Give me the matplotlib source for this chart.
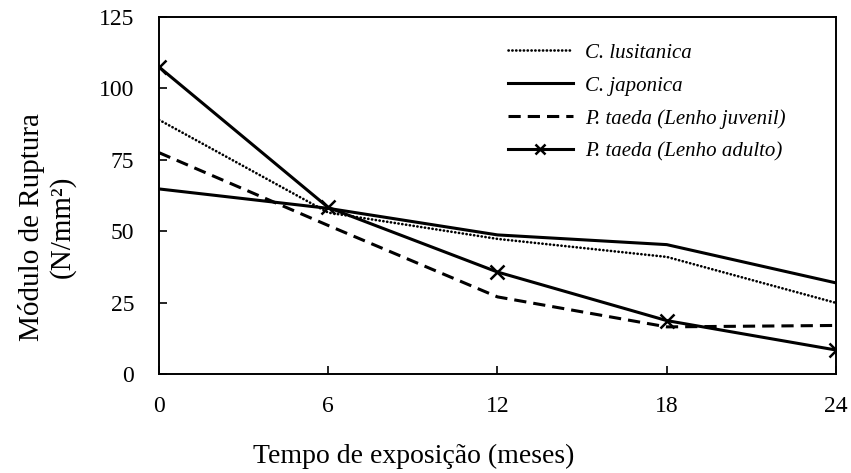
import matplotlib
matplotlib.use("Agg")
import matplotlib.pyplot as plt

plt.rcParams['font.family'] = ['Liberation Serif', 'DejaVu Serif']

months = [0, 6, 12, 18, 24]
c_lusitanica = [89.0, 56.5, 47.3, 41.0, 24.9]
c_japonica = [64.8, 58.0, 48.7, 45.3, 31.9]
p_taeda_juvenil = [77.5, 52.0, 27.0, 16.5, 17.0]
p_taeda_adulto = [107.5, 58.3, 35.7, 18.7, 8.4]
labels = ['C. lusitanica', 'C. japonica', 'P. taeda (Lenho juvenil)', 'P. taeda (Lenho adulto)']
xticks = [0, 6, 12, 18, 24]
yticks = [0, 25, 50, 75, 100, 125]

W, H = 851, 473
fig = plt.figure(figsize=(W / 100, H / 100), dpi=100)
ax = fig.add_axes([159 / W, 1 - 374 / H, (836 - 159) / W, (374 - 17) / H])

ax.plot(months, c_lusitanica, color='black', lw=1.9, dashes=(0.1, 1.35),
        dash_capstyle='round', label=labels[0])
ax.plot(months, c_japonica, color='black', lw=2.2, label=labels[1])
ax.plot(months, p_taeda_juvenil, color='black', lw=2.2, dashes=(4, 2.3), label=labels[2])
ax.plot(months, p_taeda_adulto, color='black', lw=2.2, marker='x', ms=10, mew=1.8,
        label=labels[3])

ax.set_xlim(0, 24)
ax.set_ylim(0, 125)
ax.set_xticks(xticks)
ax.set_yticks(yticks)
ax.tick_params(direction='in', length=6, width=1.2, labelsize=17)
ax.tick_params(axis='x', pad=16)
ax.tick_params(axis='y', pad=18)
for s in ax.spines.values():
    s.set_linewidth(1.4)

leg = ax.legend(loc='upper left', bbox_to_anchor=(508 / W, 1 - 43 / H),
                bbox_transform=fig.transFigure, frameon=False,
                prop={'style': 'italic', 'size': 15}, handlelength=3.1,
                handletextpad=0.58, labelspacing=0.64, borderpad=0, borderaxespad=0,
                numpoints=1)
leg.legend_handles[3].set_markersize(7)

fig.text(47 / W, 1 - 227 / H, 'Módulo de Ruptura\n(N/mm²)', rotation=90,
         ha='center', va='center', fontsize=21, linespacing=1.15)
fig.text(414 / W, 1 - 456 / H, 'Tempo de exposição (meses)', ha='center',
         va='center', fontsize=20)

fig.savefig('out.png', dpi=100)
